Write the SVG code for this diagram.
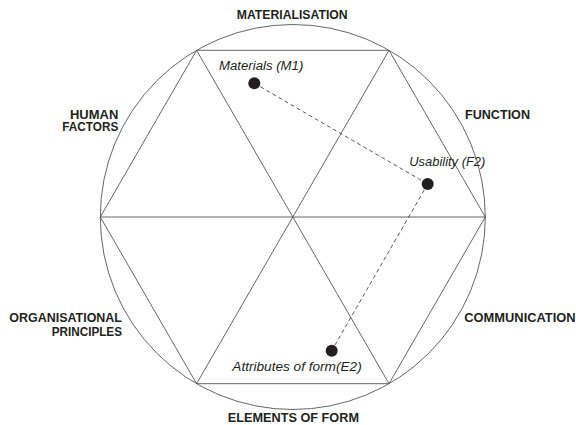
<svg xmlns="http://www.w3.org/2000/svg" width="576" height="425" viewBox="0 0 576 425">
<style>
.ln{stroke:#555;stroke-width:0.9;fill:none}
.dash{stroke:#444;stroke-width:0.9;stroke-dasharray:4 3;fill:none}
.cap{font-family:"Liberation Sans",Arial,sans-serif;font-weight:bold;font-size:12px;fill:#231f20}
.it{font-family:"Liberation Sans",Arial,sans-serif;font-style:italic;font-size:12.5px;fill:#231f20}
.dot{fill:#231f20}
</style>
<rect width="576" height="425" fill="#fff"/>
<g id="frame">
<circle class="ln" cx="292.8" cy="217" r="192.5"/>
<polygon class="ln" points="100.3,217 196.6,50.3 389,50.3 485.3,217 389,383.7 196.6,383.7"/>
<line class="ln" x1="100.3" y1="217" x2="485.3" y2="217"/>
<line class="ln" x1="196.6" y1="50.3" x2="389" y2="383.7"/>
<line class="ln" x1="389" y1="50.3" x2="196.6" y2="383.7"/>
</g>
<g id="connectors">
<line class="dash" x1="254.3" y1="83.3" x2="427.7" y2="184"/>
<line class="dash" x1="427.7" y1="184" x2="331.7" y2="350.7"/>
</g>
<g id="materials"><circle class="dot" cx="254.3" cy="83.3" r="6"/><text class="it" x="219" y="70" textLength="84.3" lengthAdjust="spacingAndGlyphs">Materials (M1)</text></g>
<g id="usability"><circle class="dot" cx="427.7" cy="184" r="6"/><text class="it" x="409.3" y="166" textLength="76" lengthAdjust="spacingAndGlyphs">Usability (F2)</text></g>
<g id="attributes"><circle class="dot" cx="331.7" cy="350.7" r="6"/><text class="it" x="232.3" y="370.7" textLength="129.4" lengthAdjust="spacingAndGlyphs">Attributes of form(E2)</text></g>
<g id="materialisation"><text class="cap" x="236.7" y="19" textLength="111" lengthAdjust="spacingAndGlyphs">MATERIALISATION</text></g>
<g id="human-factors"><text class="cap" x="70" y="118.7" textLength="48.3" lengthAdjust="spacingAndGlyphs">HUMAN</text><text class="cap" x="62.3" y="131.3" textLength="56" lengthAdjust="spacingAndGlyphs">FACTORS</text></g>
<g id="function"><text class="cap" x="465" y="118.7" textLength="65" lengthAdjust="spacingAndGlyphs">FUNCTION</text></g>
<g id="organisational-principles"><text class="cap" x="9.3" y="321.7" textLength="112.7" lengthAdjust="spacingAndGlyphs">ORGANISATIONAL</text><text class="cap" x="51.7" y="335.7" textLength="70.3" lengthAdjust="spacingAndGlyphs">PRINCIPLES</text></g>
<g id="communication"><text class="cap" x="464.3" y="321.7" textLength="111.3" lengthAdjust="spacingAndGlyphs">COMMUNICATION</text></g>
<g id="elements-of-form"><text class="cap" x="227.7" y="422" textLength="131.3" lengthAdjust="spacingAndGlyphs">ELEMENTS OF FORM</text></g>
</svg>
